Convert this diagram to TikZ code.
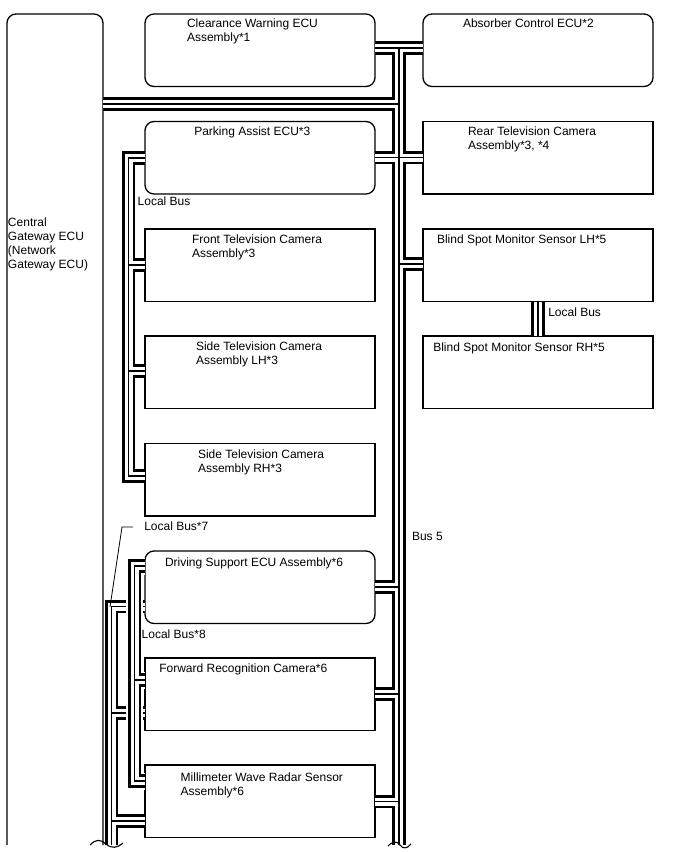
\documentclass[tikz,border=0pt]{standalone}
\usepackage{fontspec}
\setmainfont{Liberation Sans}
\newcommand\mainbuses[1]{%
  \draw[#1] (cw.east |- j0) -- (ac.west |- j0);
  \draw[#1] (j0) -- (j7);
  \draw[#1] (gw.east |- j1) -- (j1);
  \draw[#1] (pa.east |- j2) -- (rt.west |- j2);
  \draw[#1] (j3) -- (bl.west |- j3);
  \draw[#1] (ds.east |- j4) -- (j4);
  \draw[#1] (fr.east |- j5) -- (j5);
  \draw[#1] (mw.east |- j6) -- (j6);
  \draw[#1] (pa.west |- l0) -- (l0) -- (l3) -- (sr.west |- l3);
  \draw[#1] (l1) -- (ft.west |- l1);
  \draw[#1] (l2) -- (sl.west |- l2);
  \draw[#1] (bl.south -| bm) -- (br.north -| bm);
  \draw[#1] (ds.west |- s0) -- (s0) -- (s3);
  \draw[#1] (s1) -- (fr.west |- s1);
  \draw[#1] (s2) -- (mw.west |- s2);
}
\newcommand\eightbus[1]{%
  \draw[#1] (ds.west |- e0) -- (e0) -- (e2) -- (mw.west |- e2);
  \draw[#1] (e1) -- (fr.west |- e1);
}
\begin{document}
\begin{tikzpicture}[x=1pt,y=-1pt,
  box/.style={draw=black, line width=1.3pt, minimum width=230pt, minimum height=72.5pt, inner sep=0pt, outer sep=0pt, anchor=north west},
  rbox/.style={box, rounded corners=9pt},
  txt/.style={anchor=north west, inner sep=0pt, outer sep=0pt, align=left, font=\fontsize{12pt}{14pt}\selectfont},
  outerL/.style={line width=13.5pt, line cap=butt, line join=miter, draw=black},
  midL/.style={line width=8pt, line cap=butt, line join=miter, draw=white},
  innerL/.style={line width=1.3pt, line cap=butt, line join=miter, draw=black},
  haloL/.style={line width=17pt, line cap=butt, line join=miter, draw=white},
  lead/.style={line width=0.8pt, draw=black},
  wave/.style={line width=1.1pt, draw=black},
  edge/.style={line width=1.3pt, draw=black, rounded corners=9pt}
]
\useasboundingbox (0,0) rectangle (688,852);
\fill[white] (0,0) rectangle (688,852);

% boxes
\node[draw=none, minimum width=96pt, minimum height=831pt, inner sep=0pt, outer sep=0pt, anchor=north west] (gw) at (7,14) {};
\draw[edge] (gw.south west) -- (gw.north west) -- (gw.north east) -- (gw.south east);
\node[rbox] (cw) at (145,14) {};
\node[rbox] (ac) at (423,14) {};
\node[rbox] (pa) at (145,121.5) {};
\node[box]  (rt) at (423,121.5) {};
\node[box]  (ft) at (145,229) {};
\node[box]  (bl) at (423,229) {};
\node[box]  (sl) at (145,336) {};
\node[box]  (br) at (423,336) {};
\node[box]  (sr) at (145,443.5) {};
\node[rbox] (ds) at (145,551) {};
\node[box]  (fr) at (145,658) {};
\node[box]  (mw) at (145,765) {};

% bus coordinates
\coordinate (j0) at (399,48);
\coordinate (j1) at (399,104);
\coordinate (j2) at (399,157.5);
\coordinate (j3) at (399,264);
\coordinate (j4) at (399,587);
\coordinate (j5) at (399,694);
\coordinate (j6) at (399,801.5);
\coordinate (j7) at (399,845);
\coordinate (l0) at (128.5,158);
\coordinate (l1) at (128.5,265);
\coordinate (l2) at (128.5,371);
\coordinate (l3) at (128.5,476);
\coordinate (bm) at (538,318);
\coordinate (s0) at (111.5,606.5);
\coordinate (s1) at (111.5,713);
\coordinate (s2) at (111.5,821);
\coordinate (s3) at (111.5,845);
\coordinate (e0) at (134.5,566);
\coordinate (e1) at (134.5,680);
\coordinate (e2) at (134.5,781);

\mainbuses{outerL}
\mainbuses{midL}
\mainbuses{innerL}
\eightbus{haloL}
\eightbus{outerL}
\eightbus{midL}
\eightbus{innerL}

% texts
\node[txt] (tgw) at (8,218) {Central\\Gateway ECU\\(Network\\Gateway ECU)};
\node[txt] (tcw) at (187,18.5) {Clearance Warning ECU\\Assembly*1};
\node[txt] (tac) at (463,18.5) {Absorber Control ECU*2};
\node[txt] (tpa) at (194.3,126.7) {Parking Assist ECU*3};
\node[txt] (trt) at (468,127) {Rear Television Camera\\Assembly*3, *4};
\node[txt] (tft) at (192,235) {Front Television Camera\\Assembly*3};
\node[txt] (tbl) at (437,235) {Blind Spot Monitor Sensor LH*5};
\node[txt] (tsl) at (196,342) {Side Television Camera\\Assembly LH*3};
\node[txt] (tbr) at (433.3,343) {Blind Spot Monitor Sensor RH*5};
\node[txt] (tsr) at (198,449.5) {Side Television Camera\\Assembly RH*3};
\node[txt] (tds) at (165,557.3) {Driving Support ECU Assembly*6};
\node[txt] (tfr) at (159.3,663.3) {Forward Recognition Camera*6};
\node[txt] (tmw) at (180.7,772.3) {Millimeter Wave Radar Sensor\\Assembly*6};
\node[txt] (lb1) at (137.7,197) {Local Bus};
\node[txt] (lb2) at (548.3,307.3) {Local Bus};
\node[txt] (lb7) at (144.3,521.7) {Local Bus*7};
\node[txt] (b5l) at (412,532) {Bus 5};
\node[txt] (lb8) at (141.7,629.3) {Local Bus*8};

% leader of Local Bus*7
\coordinate (ld0) at (133,527);
\coordinate (ld1) at (122,527);
\coordinate (ld2) at (110,607);
\draw[lead] (ld0) -- (ld1) -- (ld2);

% break marks
\draw[wave] (90,845) .. controls (96,839) and (100,839) .. (106,844) .. controls (112,849) and (117,848) .. (123,843);
\draw[wave] (388,846) .. controls (393,841) and (397,841) .. (400,845) .. controls (403,849) and (407,849) .. (411,844);
\end{tikzpicture}
\end{document}
